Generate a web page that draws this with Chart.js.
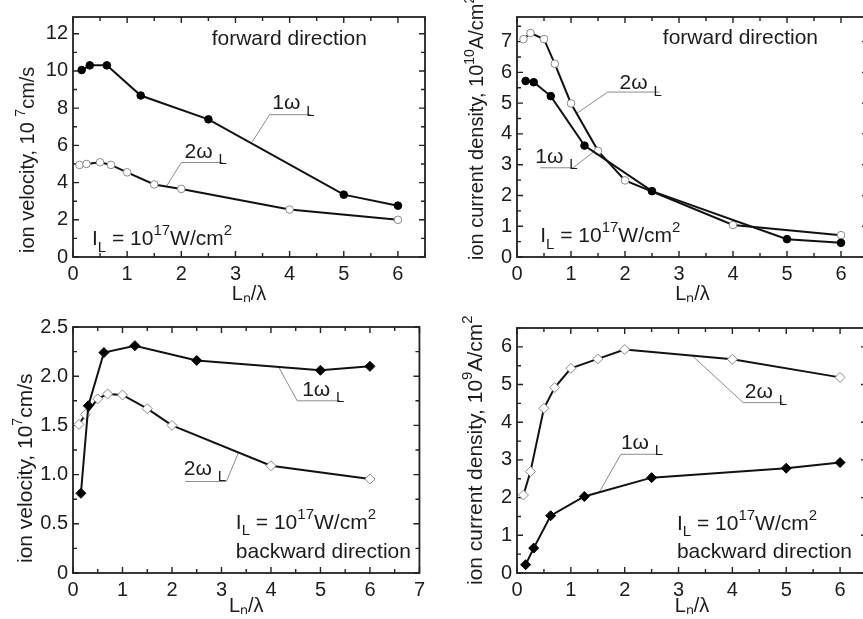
<!DOCTYPE html>
<html lang="en">
<head>
<meta charset="UTF-8">
<title>Ion velocity and ion current density vs Ln/lambda</title>
<script src="https://cdn.jsdelivr.net/npm/chart.js"></script>
<style>
  html, body { margin: 0; padding: 0; background: #fff; overflow: hidden; }
  body { width: 863px; height: 619px; position: relative; }
  canvas { position: absolute; }
  #c1 { left: 0; top: 0; }
  #c2 { left: 430px; top: 0; }
  #c3 { left: 0; top: 300px; }
  #c4 { left: 430px; top: 300px; }
</style>
</head>
<body>
<canvas id="c3" width="430" height="319"></canvas>
<canvas id="c4" width="443" height="319"></canvas>
<canvas id="c1" width="430" height="312"></canvas>
<canvas id="c2" width="443" height="312"></canvas>

<script>
// L_n / lambda sampling of the two laser harmonics
const xOne = [0.16, 0.31, 0.625, 1.25, 2.5, 5, 6];
const xTwo = [0.12, 0.25, 0.5, 0.7, 1, 1.5, 2, 4, 6];

// forward direction: ion velocity, 10^7 cm/s
const fwdVel1 = [10.05, 10.3, 10.3, 8.68, 7.4, 3.35, 2.76];
const fwdVel2 = [4.95, 5.0, 5.09, 4.95, 4.55, 3.9, 3.66, 2.55, 2.0];

// forward direction: ion current density, 10^10 A/cm^2
const fwdCur1 = [5.72, 5.68, 5.23, 3.62, 2.14, 0.58, 0.46];
const fwdCur2 = [7.08, 7.28, 7.08, 6.28, 4.99, 3.45, 2.49, 1.04, 0.71];

// backward direction: ion velocity, 10^7 cm/s
const bwdVel1 = [0.81, 1.70, 2.24, 2.31, 2.16, 2.06, 2.10];
const bwdVel2 = [1.51, 1.61, 1.77, 1.82, 1.81, 1.67, 1.50, 1.09, 0.955];

// backward direction: ion current density, 10^9 A/cm^2
const bwdCur1 = [0.22, 0.66, 1.52, 2.03, 2.53, 2.78, 2.93];
const bwdCur2 = [2.07, 2.69, 4.37, 4.92, 5.43, 5.68, 5.93, 5.67, 5.19];

const FONT = '"Liberation Sans", Arial, Helvetica, sans-serif';
const INK = '#1c1c1c';

// text pieces: [text, 'sub' | 'sup' | undefined]
const W_ONE = [['1ω '], ['L', 'sub']];
const W_TWO = [['2ω '], ['L', 'sub']];
const INTENSITY = [['I'], ['L', 'sub'], [' = 10'], ['17', 'sup'], ['W/cm'], ['2', 'sup']];

function drawParts(ctx, x, y, parts, size) {
  size = size || 21;
  let cx = x;
  parts.forEach(([t, kind]) => {
    const small = kind === 'sub' || kind === 'sup';
    ctx.font = Math.round(small ? size * 0.7 : size) + 'px ' + FONT;
    const dy = kind === 'sub' ? size * 0.3 : kind === 'sup' ? -size * 0.47 : 0;
    ctx.fillText(t, cx, y + dy);
    cx += ctx.measureText(t).width;
  });
}

// frame, inward ticks on all four sides, callout leaders and labels
const notesPlugin = {
  id: 'notes',
  beforeDatasetsDraw(chart, args, opts) {
    const ctx = chart.ctx;
    const xs = chart.scales.x, ys = chart.scales.y;
    const X = v => xs.getPixelForValue(v), Y = v => ys.getPixelForValue(v);
    const {left, right, top, bottom} = chart.chartArea;
    ctx.save();

    // gray leader lines of the 1w / 2w labels
    ctx.strokeStyle = '#8c8c8c';
    ctx.lineWidth = 1;
    (opts.callouts || []).forEach(c => {
      const y = Y(c.ul[2]), x1 = X(c.ul[0]), x2 = X(c.ul[1]);
      const sx = c.from === 'left' ? x1 : x2;
      ctx.beginPath();
      ctx.moveTo(x1, y); ctx.lineTo(x2, y);
      ctx.moveTo(sx, y); ctx.lineTo(X(c.to[0]), Y(c.to[1]));
      ctx.stroke();
    });

    // ticks
    ctx.strokeStyle = '#222';
    ctx.lineWidth = 1.4;
    ctx.beginPath();
    const n = Math.floor((xs.max - xs.min) / opts.minorX + 1e-6);
    for (let i = 0; i <= n; i++) {
      const v = xs.min + i * opts.minorX;
      const len = Math.abs(v / opts.majorX - Math.round(v / opts.majorX)) < 1e-6 ? 6 : 4;
      const px = X(v);
      ctx.moveTo(px, bottom); ctx.lineTo(px, bottom - len);
      ctx.moveTo(px, top); ctx.lineTo(px, top + len);
    }
    const m = Math.floor((ys.max - ys.min) / opts.minorY + 1e-6);
    for (let i = 0; i <= m; i++) {
      const v = ys.min + i * opts.minorY;
      const len = Math.abs(v / opts.majorY - Math.round(v / opts.majorY)) < 1e-6 ? 6 : 4;
      const py = Y(v);
      ctx.moveTo(left, py); ctx.lineTo(left + len, py);
      ctx.moveTo(right, py); ctx.lineTo(right - len, py);
    }
    ctx.stroke();

    // frame
    ctx.lineWidth = 1.8;
    ctx.strokeRect(left, top, right - left, bottom - top);
    ctx.restore();
  },
  afterDatasetsDraw(chart, args, opts) {
    const ctx = chart.ctx;
    const X = v => chart.scales.x.getPixelForValue(v);
    const Y = v => chart.scales.y.getPixelForValue(v);
    ctx.save();
    ctx.fillStyle = INK;
    ctx.textAlign = 'left';
    ctx.textBaseline = 'alphabetic';
    (opts.texts || []).forEach(t => drawParts(ctx, X(t.at[0]), Y(t.at[1]), t.parts));
    (opts.callouts || []).forEach(c => drawParts(ctx, X(c.at[0]), Y(c.at[1]), c.parts));

    // rotated y-axis title with real super-scripts
    const yt = opts.yTitle;
    if (yt) {
      ctx.translate(yt.x, chart.chartArea.bottom + yt.start);
      ctx.rotate(-Math.PI / 2);
      drawParts(ctx, 0, 0, yt.parts, yt.size);
    }
    ctx.restore();
  }
};

function series(xv, yv, style, filled) {
  return {
    data: xv.map((x, i) => ({x: x, y: yv[i]})),
    borderColor: '#111',
    borderWidth: 2,
    pointStyle: style,
    pointRadius: style === 'rectRot' ? 5 : 3.8,
    pointBorderWidth: 1,
    pointBackgroundColor: filled ? '#000' : '#fff',
    pointBorderColor: filled ? '#000' : '#8a8a8a',
    tension: 0
  };
}

function makeChart(id, cfg) {
  new Chart(document.getElementById(id), {
    type: 'line',
    data: {
      datasets: [
        series(xOne, cfg.one, cfg.marker, true),
        series(xTwo, cfg.two, cfg.marker, false)
      ]
    },
    options: {
      responsive: false,
      animation: false,
      events: [],
      layout: { padding: { top: cfg.padTop, right: cfg.padRight, left: 0, bottom: 0 } },
      plugins: {
        legend: { display: false },
        tooltip: { enabled: false },
        notes: {
          majorX: 1, minorX: 0.5,
          majorY: cfg.yStep, minorY: cfg.yStep / 2,
          texts: cfg.texts,
          callouts: cfg.callouts,
          yTitle: cfg.yTitle
        }
      },
      scales: {
        x: {
          type: 'linear', min: 0, max: cfg.xMax,
          grid: { display: false, drawTicks: false },
          border: { display: false },
          ticks: { stepSize: 1, includeBounds: false, padding: 5, maxRotation: 0, color: INK,
                   font: { size: 20, family: FONT } },
          title: { display: true, text: 'Lₙ/λ', color: INK, font: { size: 20, family: FONT, lineHeight: 1.2 },
                   padding: { top: 0, bottom: cfg.xTitlePad } },
          afterFit(s) { s.height = cfg.xH; }
        },
        y: {
          type: 'linear', min: 0, max: cfg.yMax,
          grid: { display: false, drawTicks: false },
          border: { display: false },
          ticks: { stepSize: cfg.yStep, includeBounds: false, padding: 5, color: INK,
                   font: { size: 20, family: FONT }, callback: cfg.yFmt },
          title: { display: false },
          afterFit(s) { s.width = cfg.yW; }
        }
      }
    },
    plugins: [notesPlugin]
  });
}

const plain = v => String(v);

makeChart('c1', {
  one: fwdVel1, two: fwdVel2, marker: 'circle',
  xMax: 6.5, yMax: 12.9, yStep: 2, yFmt: plain,
  padTop: 13, padRight: 3, yW: 73, xH: 55, xTitlePad: 6,
  yTitle: { x: 34, start: -4, size: 20, parts: [['ion velocity, 10 '], ['7', 'sup'], ['cm/s']] },
  texts: [
    { at: [2.56, 11.4], parts: [['forward direction']] },
    { at: [0.35, 0.63], parts: INTENSITY }
  ],
  callouts: [
    { at: [3.68, 7.94], parts: W_ONE, ul: [3.63, 4.4, 7.65], from: 'left', to: [3.31, 6.19] },
    { at: [2.06, 5.34], parts: W_TWO, ul: [2.0, 2.76, 5.08], from: 'left', to: [1.73, 3.82] }
  ]
});

makeChart('c2', {
  one: fwdCur1, two: fwdCur2, marker: 'circle',
  xMax: 6.5, yMax: 7.8, yStep: 1, yFmt: plain,
  padTop: 13, padRight: 3, yW: 87, xH: 55, xTitlePad: 6,
  yTitle: { x: 53, start: 3, size: 20, parts: [['ion current density, 10'], ['10', 'sup'], ['A/cm'], ['2', 'sup']] },
  texts: [
    { at: [2.7, 6.91], parts: [['forward direction']] },
    { at: [0.43, 0.48], parts: INTENSITY }
  ],
  callouts: [
    { at: [1.9, 5.45], parts: W_TWO, ul: [1.68, 2.64, 5.36], from: 'left', to: [1.1, 4.66] },
    { at: [0.34, 3.05], parts: W_ONE, ul: [0.43, 1.04, 2.9], from: 'right', to: [1.47, 3.49] }
  ]
});

makeChart('c3', {
  one: bwdVel1, two: bwdVel2, marker: 'rectRot',
  xMax: 7, yMax: 2.5, yStep: 0.5, yFmt: v => v === 0 ? '0' : v.toFixed(1),
  padTop: 27, padRight: 3, yW: 73, xH: 46, xTitlePad: 1,
  yTitle: { x: 32, start: -10, size: 20.5, parts: [['ion velocity, 10'], ['7', 'sup'], ['cm/s']] },
  texts: [
    { at: [3.29, 0.45], parts: INTENSITY },
    { at: [3.29, 0.15], parts: [['backward direction']] }
  ],
  callouts: [
    { at: [4.63, 1.8], parts: W_ONE, ul: [4.53, 5.39, 1.75], from: 'left', to: [4.16, 2.09] },
    { at: [2.24, 1.0], parts: W_TWO, ul: [2.27, 3.1, 0.93], from: 'right', to: [3.34, 1.22] }
  ]
});

makeChart('c4', {
  one: bwdCur1, two: bwdCur2, marker: 'rectRot',
  xMax: 6.5, yMax: 6.5, yStep: 1, yFmt: plain,
  padTop: 28, padRight: 3, yW: 87, xH: 46, xTitlePad: 1,
  yTitle: { x: 52, start: 12, size: 21, parts: [['ion current density, 10'], ['9', 'sup'], ['A/cm'], ['2', 'sup']] },
  texts: [
    { at: [2.97, 1.15], parts: INTENSITY },
    { at: [2.97, 0.4], parts: [['backward direction']] }
  ],
  callouts: [
    { at: [4.23, 4.63], parts: W_TWO, ul: [4.2, 4.94, 4.52], from: 'left', to: [3.25, 5.77] },
    { at: [1.93, 3.3], parts: W_ONE, ul: [1.93, 2.6, 3.15], from: 'left', to: [1.53, 2.15] }
  ]
});
</script>
</body>
</html>
